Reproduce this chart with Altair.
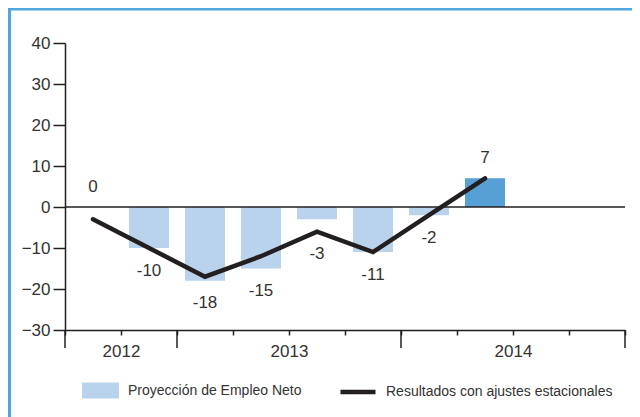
import altair as alt
import pandas as pd

# ---- data ----
periodos = ["T3 2012", "T4 2012", "T1 2013", "T2 2013", "T3 2013", "T4 2013", "T1 2014", "T2 2014"]
proyeccion = [0, -10, -18, -15, -3, -11, -2, 7]
ajustados = [-3, -10, -17, -12, -6, -11, -2, 7]
anios = ["2012", "2013", "2014"]
trimestres_por_anio = [2, 4, 4]
y_ticks = [-30, -20, -10, 0, 10, 20, 30, 40]

SERIE_BAR = "Proyección de Empleo Neto"
SERIE_BAR_ACTUAL = "Proyección actual"
SERIE_LINE = "Resultados con ajustes estacionales"

# ---- style ----
FONT = "Liberation Sans"
TXT = "#333333"
INK = "#231f20"
LIGHT = "#b9d3ec"
DARK = "#57a0d5"
FRAME = "#4fa6dc"
W, H = 560, 287

n_slots = sum(trimestres_por_anio)
bounds = [0]
for c in trimestres_por_anio:
    bounds.append(bounds[-1] + c)
centers = [(bounds[k] + bounds[k + 1]) / 2 for k in range(len(anios))]

label_expr = "''"
for cen, yr in reversed(list(zip(centers, anios))):
    label_expr = f"datum.value == {cen} ? '{yr}' : ({label_expr})"

n = len(periodos)
df = pd.DataFrame({
    "periodo": periodos,
    "pos": [i + 0.5 for i in range(n)],
    "proyeccion": proyeccion,
    "ajustado": ajustados,
    "tipo": [SERIE_BAR] * (n - 1) + [SERIE_BAR_ACTUAL],
    "serie": [SERIE_LINE] * n,
})
df["label"] = df["proyeccion"].astype(str)
df["label_y"] = [max(p, a) + 5 if p >= 0 else min(p, a) - 5.5 for p, a in zip(proyeccion, ajustados)]

df_bounds = pd.DataFrame({"b": bounds})
df_one = pd.DataFrame({"k": [0]})

xscale = alt.Scale(domain=[0, n_slots], nice=False, zero=False, padding=0)
yscale = alt.Scale(domain=[y_ticks[0], y_ticks[-1]], nice=False)

xaxis = alt.Axis(values=list(range(n_slots + 1)), tickSize=5, labelExpr=label_expr,
                 labelPadding=8, labelFontSize=17, title=None, labelFlush=False,
                 labelOverlap=False)
yaxis = alt.Axis(values=y_ticks, tickSize=12, labelPadding=3, labelFontSize=17, title=None)

bars = alt.Chart(df).mark_bar(size=40, orient="vertical").encode(
    x=alt.X("pos:Q", scale=xscale, axis=xaxis),
    y=alt.Y("proyeccion:Q", scale=yscale, axis=yaxis),
    y2=alt.datum(0),
    fill=alt.Fill("tipo:N",
                  scale=alt.Scale(domain=[SERIE_BAR, SERIE_BAR_ACTUAL], range=[LIGHT, DARK]),
                  legend=alt.Legend(orient="none", legendX=17, legendY=329, title=None,
                                    values=[SERIE_BAR], symbolType="M-1,-0.432H1V0.432H-1Z",
                                    symbolSize=1369, symbolStrokeWidth=0, symbolOpacity=1,
                                    labelFontSize=14, labelOffset=9, padding=0, labelLimit=0,
                                    labelFont=FONT, labelColor=TXT)),
)

zero = alt.Chart(df_one).mark_rule(color=INK, strokeWidth=1.5).encode(y=alt.datum(0))

line = alt.Chart(df).mark_line(strokeWidth=4.5, strokeCap="round").encode(
    x="pos:Q",
    y="ajustado:Q",
    stroke=alt.Stroke("serie:N",
                      scale=alt.Scale(domain=[SERIE_LINE], range=[INK]),
                      legend=alt.Legend(orient="none", legendX=273, legendY=329, title=None,
                                        symbolType="stroke", symbolSize=1225,
                                        symbolStrokeWidth=4.5, labelFontSize=14,
                                        labelOffset=8, padding=0, labelLimit=0,
                                        labelFont=FONT, labelColor=TXT)),
)

labels = alt.Chart(df).mark_text(fontSize=17, color=TXT, font=FONT, baseline="middle").encode(
    x="pos:Q", y="label_y:Q", text="label:N"
)

long_ticks = alt.Chart(df_bounds).mark_rule(color=INK, strokeWidth=1.5).encode(
    x="b:Q", y=alt.value(H), y2=alt.value(H + 18)
)

frame_left = alt.Chart(df_one).mark_rule(color=FRAME, strokeWidth=3).encode(
    x=alt.value(-55.5), y=alt.value(-35), y2=alt.value(H + 100)
)
frame_top = alt.Chart(df_one).mark_rule(color=FRAME, strokeWidth=3).encode(
    x=alt.value(-57), x2=alt.value(W + 10), y=alt.value(-34)
)

chart = alt.layer(bars, zero, line, labels, long_ticks, frame_left, frame_top).properties(
    width=W, height=H,
    padding={"left": 57, "top": 35, "right": 7, "bottom": 87},
    autosize=alt.AutoSizeParams(type="none"),
).configure_axis(
    labelFont=FONT, labelColor=TXT, domainColor=INK, tickColor=INK,
    domainWidth=1.5, tickWidth=1.5, grid=False,
).configure_view(strokeWidth=0).configure_legend(labelFont=FONT, labelColor=TXT)

chart.save("out.html", embed_options={"renderer": "svg", "actions": False})
